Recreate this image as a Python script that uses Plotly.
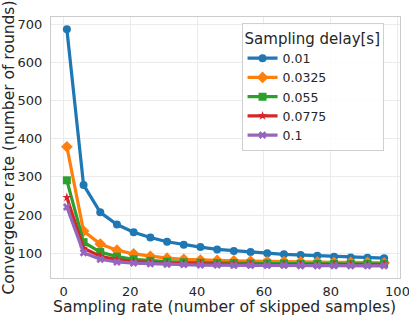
import plotly.graph_objects as go

x_vals = [1, 6, 11, 16, 21, 26, 31, 36, 41, 46, 51, 56, 61, 66, 71, 76, 81, 86, 91, 96]
delay_labels = ["0.01", "0.0325", "0.055", "0.0775", "0.1"]
y_001 = [687, 279, 207, 175, 155, 141, 130, 122, 116, 110, 106, 103, 100, 97, 95, 93, 91, 89, 88, 87]
y_00325 = [379, 158, 124, 108, 98, 92, 87, 84, 82, 81, 80, 79, 78, 78, 77, 77, 76, 76, 76, 75]
y_0055 = [291, 129, 103, 91, 84, 80, 78, 76, 75, 74, 74, 73, 73, 73, 72, 72, 72, 72, 72, 72]
y_00775 = [246, 113, 92, 83, 78, 75, 74, 73, 72, 71, 71, 71, 70, 70, 70, 70, 70, 70, 70, 70]
y_01 = [221, 101, 84, 77, 74, 72, 71, 70, 69, 69, 68, 68, 68, 68, 67, 67, 67, 67, 67, 67]

series = [y_001, y_00325, y_0055, y_00775, y_01]
colors = ["#1f77b4", "#ff7f0e", "#2ca02c", "#d62728", "#9467bd"]
symbols = ["circle", "diamond", "square", "star", "x"]
sizes = [8, 9, 8, 7, 7]

font_family = "DejaVu Sans"
text_color = "#262626"

fig = go.Figure()
for lab, ys, c, s, sz in zip(delay_labels, series, colors, symbols, sizes):
    fig.add_trace(go.Scatter(
        x=x_vals, y=ys, name=lab, mode="lines+markers",
        line=dict(color=c, width=3.2),
        marker=dict(symbol=s, size=sz, color=c, line=dict(width=0)),
    ))

fig.update_layout(
    width=409, height=315,
    margin=dict(l=51, r=9, t=17, b=37),
    paper_bgcolor="white", plot_bgcolor="white",
    font=dict(family=font_family, color=text_color, size=12),
    showlegend=True,
    legend=dict(
        title=dict(text="Sampling delay[s]", font=dict(size=15, color=text_color)),
        font=dict(size=12.5, color=text_color),
        x=0.546, xanchor="left", y=0.977, yanchor="top",
        bgcolor="rgba(255,255,255,0.85)", bordercolor="#d0d0d0", borderwidth=1,
        tracegroupgap=0, itemwidth=30,
    ),
    annotations=[dict(
        text="Sampling rate (number of skipped samples)", xref="paper", yref="paper",
        x=0.496, y=-0.112, xanchor="center", yanchor="middle", showarrow=False,
        font=dict(size=15.6, color=text_color),
    )],
)
fig.update_xaxes(
    range=[-3.75, 100.75], tickvals=[0, 20, 40, 60, 80, 100], automargin=False,
    showgrid=True, gridcolor="#ebebeb", gridwidth=1, zeroline=False,
    showline=True, linecolor="#cccccc", linewidth=1.2, mirror=True,
    ticks="outside", ticklen=1, tickcolor="rgba(0,0,0,0)",
    tickfont=dict(size=13), ticklabeloverflow="allow",
)
fig.update_yaxes(
    range=[35, 719], tickvals=[100, 200, 300, 400, 500, 600, 700], automargin=False,
    showgrid=True, gridcolor="#ebebeb", gridwidth=1, zeroline=False,
    showline=True, linecolor="#cccccc", linewidth=1.2, mirror=True,
    ticks="outside", ticklen=5, tickcolor="rgba(0,0,0,0)",
    tickfont=dict(size=13),
    title=dict(text="Convergence rate (number of rounds)", font=dict(size=15.5), standoff=4),
)

fig.write_html("out.html", config={"displayModeBar": False},
               post_script="document.body.style.margin='0';document.body.style.overflow='hidden';")
